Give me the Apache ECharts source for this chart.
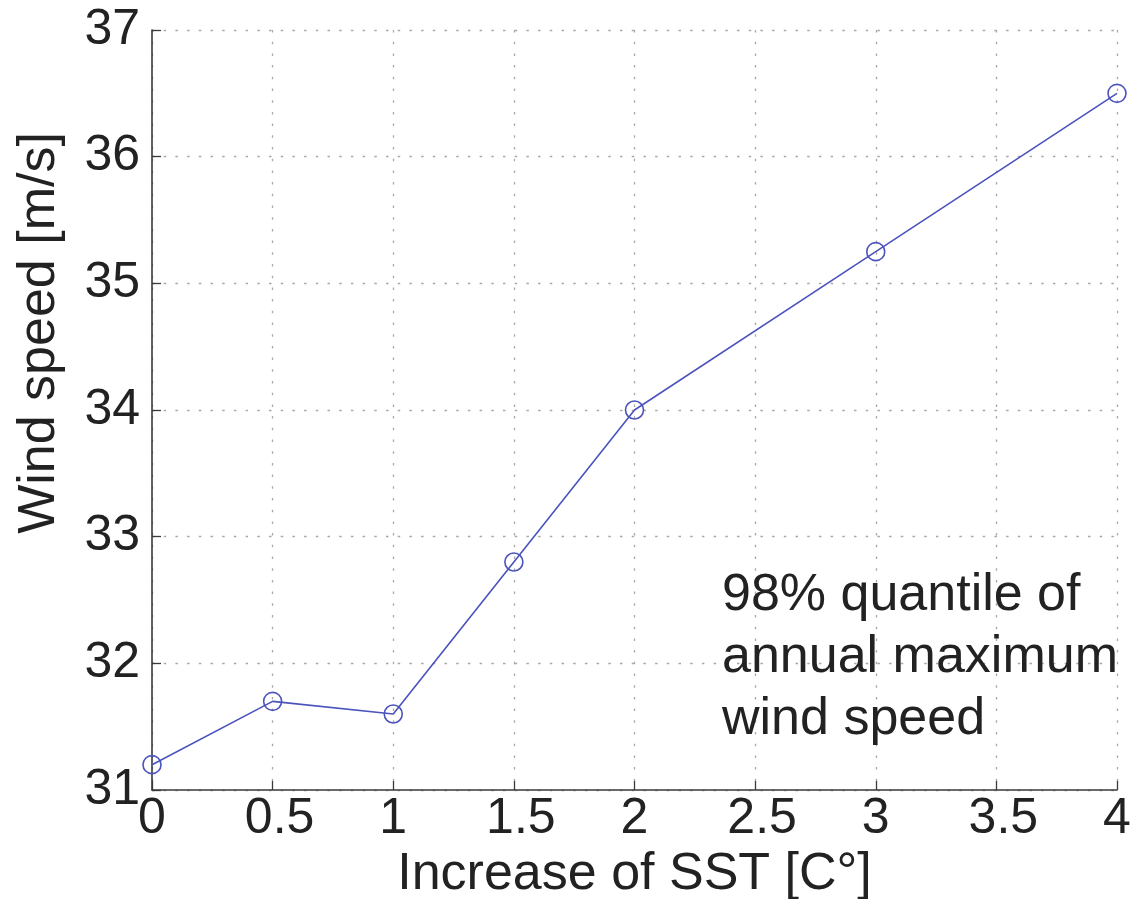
<!DOCTYPE html>
<html>
<head>
<meta charset="utf-8">
<title>Wind speed vs SST increase</title>
<script src="https://cdn.jsdelivr.net/npm/echarts@6/dist/echarts.min.js"></script>
<style>
  html, body { margin: 0; padding: 0; background: #ffffff; }
  #chart { width: 1132px; height: 899px; }
</style>
</head>
<body>
<div id="chart"></div>
<script>
// SST increase steps [°C] and the 98% quantile of annual maximum wind speed [m/s]
const sstIncrease = [0, 0.5, 1, 1.5, 2, 3, 4];
const windSpeed = [31.2, 31.7, 31.6, 32.8, 34.0, 35.25, 36.5];

const xTicks = { min: 0, max: 4, interval: 0.5 };
const yTicks = { min: 31, max: 37, interval: 1 };

const noteLines = ['98% quantile of', 'annual maximum', 'wind speed'];

const FONT = '"Liberation Sans", Arial, Helvetica, sans-serif';
const INK = '#222222';
const LINE_BLUE = '#4b53bd';

const chart = echarts.init(document.getElementById('chart'), null, { renderer: 'canvas' });

const gridLine = {
  show: true,
  lineStyle: { color: '#a8a8a8', width: 1.3, type: [2.5, 9.2] }
};

chart.setOption({
  backgroundColor: '#ffffff',
  animation: false,
  grid: {
    left: 152, right: 15, top: 30, bottom: 109,
    containLabel: false,
    outerBoundsMode: 'none'
  },
  xAxis: {
    type: 'value',
    min: xTicks.min,
    max: xTicks.max,
    interval: xTicks.interval,
    name: 'Increase of SST [C°]',
    nameLocation: 'middle',
    nameGap: 55,
    nameTextStyle: { fontFamily: FONT, fontSize: 52, color: INK },
    axisLine: { show: true, onZero: false, lineStyle: { color: '#3a3a3a', width: 1.6 } },
    axisTick: { show: true, inside: true, length: 9, lineStyle: { color: '#3a3a3a', width: 1.3 } },
    axisLabel: {
      fontFamily: FONT, fontSize: 50, color: INK, margin: 4,
      // fractional labels sit a little right of their tick
      formatter: v => (String(v).indexOf('.') >= 0 ? '{dec|' + v + '}' : String(v)),
      rich: {
        dec: { fontFamily: FONT, fontSize: 50, color: INK, padding: [0, 0, 0, 14] }
      }
    },
    splitLine: gridLine
  },
  yAxis: {
    type: 'value',
    min: yTicks.min,
    max: yTicks.max,
    interval: yTicks.interval,
    name: 'Wind speed [m/s]',
    nameLocation: 'middle',
    nameGap: 86,
    nameRotate: 90,
    nameTextStyle: { fontFamily: FONT, fontSize: 52, color: INK, padding: [0, 0, 0, 154] },
    axisLine: { show: true, onZero: false, lineStyle: { color: '#3a3a3a', width: 1.6 } },
    axisTick: { show: true, inside: true, length: 9, lineStyle: { color: '#3a3a3a', width: 1.3 } },
    axisLabel: { fontFamily: FONT, fontSize: 50, color: INK, margin: 12 },
    splitLine: gridLine
  },
  series: [{
    type: 'line',
    data: sstIncrease.map((x, i) => [x, windSpeed[i]]),
    symbol: 'circle',
    symbolSize: 18,
    showAllSymbol: true,
    color: LINE_BLUE,
    lineStyle: { color: LINE_BLUE, width: 1.6 },
    itemStyle: { color: 'rgba(255,255,255,0)', borderColor: LINE_BLUE, borderWidth: 1.6 },
    emphasis: { disabled: true },
    z: 3
  }],
  graphic: [{
    type: 'text',
    left: 722,
    top: 565,
    z: 10,
    style: {
      text: noteLines.join('\n'),
      fontFamily: FONT,
      fontSize: 52,
      lineHeight: 62,
      fill: INK
    }
  }]
});
</script>
</body>
</html>
